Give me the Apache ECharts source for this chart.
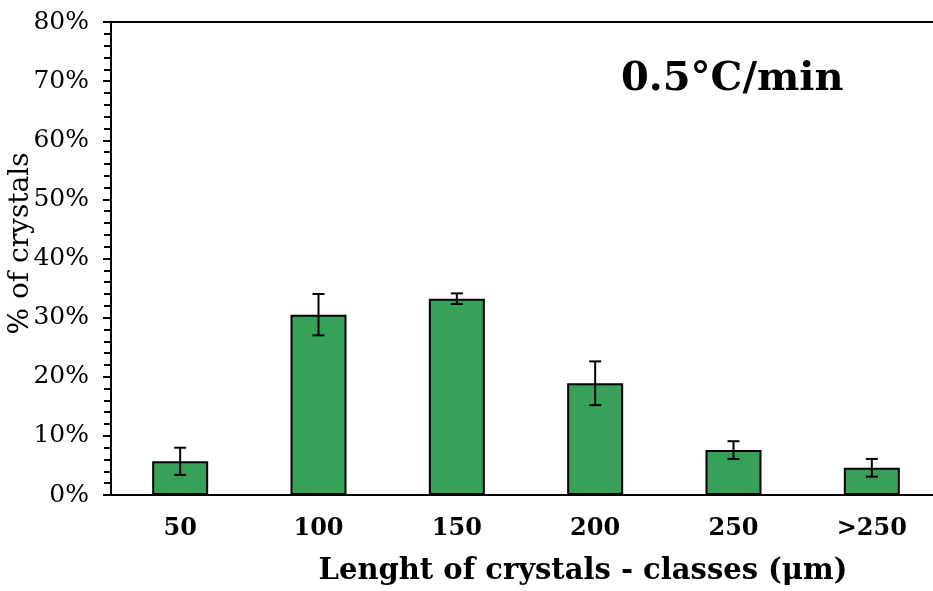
<!DOCTYPE html>
<html>
<head>
<meta charset="utf-8">
<script src="https://cdn.jsdelivr.net/npm/echarts@6/dist/echarts.min.js"></script>
<style>html,body{margin:0;padding:0;background:#fff;}#c{width:933px;height:591px;}</style>
</head>
<body>
<div id="c"></div>
<script>
var categories = ['50', '100', '150', '200', '250', '>250'];
var values = [5.7, 30.5, 33.2, 18.9, 7.6, 4.6];
var errors = [2.3, 3.5, 0.9, 3.7, 1.5, 1.5];
var yTicks = [0, 10, 20, 30, 40, 50, 60, 70, 80];

var FONT = 'DejaVu Serif';
var chart = echarts.init(document.getElementById('c'));
var errData = values.map(function (v, i) { return [i, v - errors[i], v + errors[i]]; });

chart.setOption({
  animation: false,
  grid: { left: 111, right: -8, top: 22, bottom: 96, outerBoundsMode: 'none', containLabel: false,
          show: true, borderColor: '#000', borderWidth: 2 },
  title: {
    text: '0.5°C/min', left: 616, top: 55,
    textStyle: { fontFamily: FONT, fontWeight: 'bold', fontSize: 40, color: '#000' }
  },
  xAxis: {
    type: 'category', data: categories,
    axisLine: { show: true, lineStyle: { color: '#000', width: 2 } },
    axisTick: { show: false },
    axisLabel: { fontFamily: FONT, fontWeight: 'bold', fontSize: 24, color: '#000', margin: 22 },
    name: 'Lenght of crystals - classes (μm)', nameLocation: 'middle', nameGap: 62,
    nameTextStyle: { fontFamily: FONT, fontWeight: 'bold', fontSize: 29, color: '#000', padding: [0, 0, 0, 114] }
  },
  yAxis: {
    type: 'value', min: yTicks[0], max: yTicks[yTicks.length - 1], interval: 10,
    axisLine: { show: true, lineStyle: { color: '#000', width: 2 } },
    axisTick: { show: true, length: 8, lineStyle: { color: '#000', width: 2 } },
    minorTick: { show: true, splitNumber: 5, length: 7, lineStyle: { color: '#000', width: 2 } },
    splitLine: { show: false },
    axisLabel: { fontFamily: FONT, fontSize: 25, color: '#000', margin: 22, formatter: '{value}%' },
    name: '% of crystals', nameLocation: 'middle', nameGap: 76, nameRotate: 90, nameMoveOverlap: false,
    nameTextStyle: { fontFamily: FONT, fontSize: 28, color: '#000', padding: [0, 0, 0, 30] }
  },
  series: [
    {
      type: 'bar', data: values, barWidth: 56,
      itemStyle: { color: '#38a159', borderColor: '#000', borderWidth: 2 }
    },
    {
      type: 'custom', data: errData, z: 10,
      renderItem: function (params, api) {
        var x = api.value(0);
        var lo = api.coord([x, api.value(1)]);
        var hi = api.coord([x, api.value(2)]);
        var hw = 6;
        var st = { stroke: '#000', lineWidth: 2 };
        return {
          type: 'group',
          children: [
            { type: 'line', shape: { x1: lo[0], y1: lo[1], x2: hi[0], y2: hi[1] }, style: st },
            { type: 'line', shape: { x1: lo[0] - hw, y1: lo[1], x2: lo[0] + hw, y2: lo[1] }, style: st },
            { type: 'line', shape: { x1: hi[0] - hw, y1: hi[1], x2: hi[0] + hw, y2: hi[1] }, style: st }
          ]
        };
      }
    }
  ]
});
</script>
</body>
</html>
